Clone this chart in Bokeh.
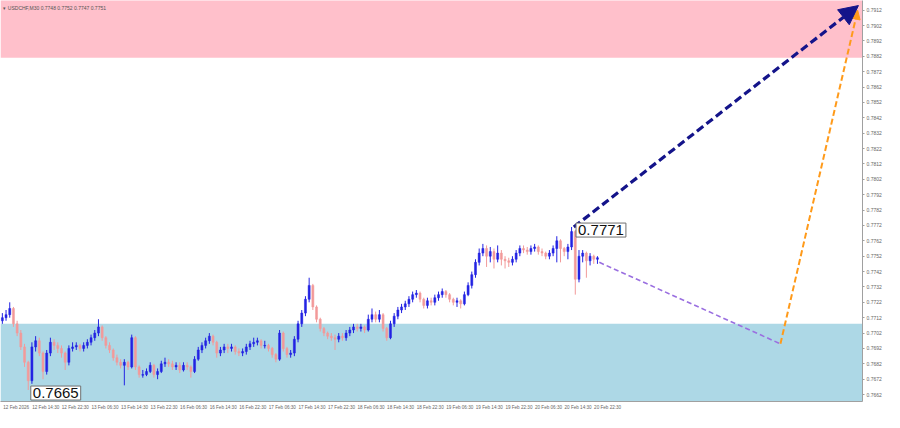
from bokeh.plotting import figure
from bokeh.models import Range1d, FixedTicker, Label, Arrow, NormalHead, BoxAnnotation, PrintfTickFormatter, ColumnDataSource
from bokeh.embed import file_html
from bokeh.resources import INLINE

# ---------------- data (hourly candles, USDCHF) ----------------
first_open = 0.7710
closes = [0.7712, 0.7714, 0.7718, 0.7708, 0.7702, 0.7693, 0.7683, 0.7671, 0.7693, 0.7697,
          0.7689, 0.7677, 0.7689, 0.7696, 0.7694, 0.7692, 0.7689, 0.7683, 0.7692, 0.7693,
          0.7694, 0.7692, 0.7694, 0.7696, 0.7699, 0.7702, 0.7706, 0.7699, 0.7694, 0.7691,
          0.7686, 0.7683, 0.7681, 0.7683, 0.7680, 0.7699, 0.7680, 0.7675, 0.7675, 0.7677,
          0.7681, 0.7675, 0.7677, 0.7682, 0.7683, 0.7682, 0.7680, 0.7681, 0.7678, 0.7681,
          0.7680, 0.7677, 0.7685, 0.7691, 0.7694, 0.7697, 0.7700, 0.7696, 0.7689, 0.7691,
          0.7693, 0.7692, 0.7693, 0.7690, 0.7689, 0.7690, 0.7693, 0.7695, 0.7696, 0.7697,
          0.7694, 0.7694, 0.7692, 0.7688, 0.7685, 0.7702, 0.7692, 0.7688, 0.7689, 0.7698,
          0.7708, 0.7715, 0.7724, 0.7733, 0.7719, 0.7711, 0.7705, 0.7702, 0.7700, 0.7699,
          0.7698, 0.7700, 0.7699, 0.7702, 0.7704, 0.7706, 0.7705, 0.7706, 0.7704, 0.7711,
          0.7714, 0.7711, 0.7714, 0.7705, 0.7699, 0.7708, 0.7713, 0.7717, 0.7719, 0.7721,
          0.7724, 0.7727, 0.7728, 0.7724, 0.7720, 0.7723, 0.7722, 0.7725, 0.7727, 0.7729,
          0.7727, 0.7724, 0.7722, 0.7723, 0.7721, 0.7727, 0.7733, 0.7740, 0.7748, 0.7754,
          0.7757, 0.7752, 0.7755, 0.7750, 0.7754, 0.7750, 0.7749, 0.7748, 0.7750, 0.7754,
          0.7757, 0.7756, 0.7755, 0.7757, 0.7758, 0.7755, 0.7754, 0.7752, 0.7754, 0.7757,
          0.7762, 0.7757, 0.7755, 0.7758, 0.7768, 0.7737, 0.7752, 0.7754, 0.7749, 0.7752,
          0.7750, 0.7751]
highs = [0.7715, 0.7717, 0.7722, 0.7719, 0.7710, 0.7704, 0.7695, 0.7684, 0.7696, 0.7700,
         0.7699, 0.7690, 0.7691, 0.7699, 0.7698, 0.7696, 0.7694, 0.7690, 0.7694, 0.7696,
         0.7696, 0.7695, 0.7696, 0.7698, 0.7701, 0.7704, 0.7711, 0.7707, 0.7700, 0.7696,
         0.7692, 0.7688, 0.7685, 0.7685, 0.7684, 0.7701, 0.7700, 0.7681, 0.7678, 0.7679,
         0.7683, 0.7682, 0.7679, 0.7684, 0.7686, 0.7685, 0.7684, 0.7683, 0.7683, 0.7683,
         0.7683, 0.7681, 0.7687, 0.7693, 0.7696, 0.7699, 0.7702, 0.7701, 0.7697, 0.7693,
         0.7695, 0.7695, 0.7695, 0.7694, 0.7692, 0.7692, 0.7695, 0.7697, 0.7699, 0.7699,
         0.7698, 0.7697, 0.7695, 0.7693, 0.7689, 0.7704, 0.7703, 0.7693, 0.7691, 0.7700,
         0.7710, 0.7717, 0.7726, 0.7738, 0.7734, 0.7720, 0.7712, 0.7706, 0.7703, 0.7702,
         0.7701, 0.7702, 0.7702, 0.7704, 0.7706, 0.7708, 0.7708, 0.7708, 0.7707, 0.7714,
         0.7718, 0.7716, 0.7717, 0.7715, 0.7706, 0.7710, 0.7715, 0.7719, 0.7721, 0.7723,
         0.7726, 0.7729, 0.7730, 0.7729, 0.7725, 0.7725, 0.7725, 0.7727, 0.7729, 0.7731,
         0.7730, 0.7728, 0.7725, 0.7725, 0.7724, 0.7729, 0.7735, 0.7742, 0.7750, 0.7757,
         0.7760, 0.7759, 0.7758, 0.7757, 0.7759, 0.7756, 0.7752, 0.7751, 0.7752, 0.7756,
         0.7759, 0.7759, 0.7758, 0.7759, 0.7760, 0.7759, 0.7757, 0.7755, 0.7756, 0.7759,
         0.7765, 0.7763, 0.7758, 0.7760, 0.7771, 0.7769, 0.7756, 0.7756, 0.7755, 0.7754,
         0.7753, 0.7752]
lows = [0.7708, 0.7710, 0.7712, 0.7706, 0.7700, 0.7691, 0.7680, 0.7665, 0.7669, 0.7690,
        0.7687, 0.7672, 0.7675, 0.7687, 0.7691, 0.7689, 0.7686, 0.7678, 0.7681, 0.7690,
        0.7691, 0.7690, 0.7690, 0.7692, 0.7694, 0.7697, 0.7700, 0.7697, 0.7692, 0.7689,
        0.7684, 0.7681, 0.7679, 0.7668, 0.7678, 0.7679, 0.7678, 0.7673, 0.7673, 0.7674,
        0.7676, 0.7673, 0.7672, 0.7676, 0.7680, 0.7680, 0.7678, 0.7678, 0.7676, 0.7677,
        0.7678, 0.7673, 0.7676, 0.7684, 0.7689, 0.7692, 0.7695, 0.7694, 0.7686, 0.7687,
        0.7689, 0.7689, 0.7690, 0.7688, 0.7687, 0.7687, 0.7688, 0.7691, 0.7693, 0.7694,
        0.7692, 0.7692, 0.7690, 0.7686, 0.7683, 0.7684, 0.7690, 0.7686, 0.7686, 0.7687,
        0.7696, 0.7706, 0.7713, 0.7722, 0.7717, 0.7709, 0.7703, 0.7700, 0.7698, 0.7697,
        0.7691, 0.7696, 0.7697, 0.7697, 0.7700, 0.7702, 0.7703, 0.7703, 0.7702, 0.7703,
        0.7709, 0.7709, 0.7709, 0.7703, 0.7697, 0.7698, 0.7706, 0.7711, 0.7715, 0.7717,
        0.7719, 0.7722, 0.7725, 0.7722, 0.7718, 0.7718, 0.7720, 0.7720, 0.7723, 0.7725,
        0.7725, 0.7722, 0.7720, 0.7719, 0.7718, 0.7720, 0.7726, 0.7731, 0.7738, 0.7746,
        0.7752, 0.7745, 0.7748, 0.7744, 0.7748, 0.7746, 0.7744, 0.7745, 0.7746, 0.7748,
        0.7752, 0.7754, 0.7753, 0.7753, 0.7755, 0.7753, 0.7752, 0.7750, 0.7750, 0.7752,
        0.7748, 0.7748, 0.7752, 0.7750, 0.7756, 0.7727, 0.7735, 0.7748, 0.7738, 0.7746,
        0.7747, 0.7747]

tick_bars = [0, 8, 16, 24, 32, 40, 48, 56, 64, 72, 80, 88, 96, 104, 112, 120, 128, 136, 144, 152, 160]
tick_labels = ["12 Feb 2026", "12 Feb 14:30", "12 Feb 22:30", "13 Feb 06:30", "13 Feb 14:30",
               "13 Feb 22:30", "16 Feb 06:30", "16 Feb 14:30", "16 Feb 22:30", "17 Feb 06:30",
               "17 Feb 14:30", "17 Feb 22:30", "18 Feb 06:30", "18 Feb 14:30", "18 Feb 22:30",
               "19 Feb 06:30", "19 Feb 14:30", "19 Feb 22:30", "20 Feb 06:30", "20 Feb 14:30",
               "20 Feb 22:30"]
price_ticks = [0.7662, 0.7672, 0.7682, 0.7692, 0.7702, 0.7712, 0.7722, 0.7732, 0.7742, 0.7752,
               0.7762, 0.7772, 0.7782, 0.7792, 0.7802, 0.7812, 0.7822, 0.7832, 0.7842, 0.7852,
               0.7862, 0.7872, 0.7882, 0.7892, 0.7902, 0.7912]

resistance_zone = [0.7881, 0.7930]
support_zone = [0.7640, 0.7708]

up_arrow_x = [154.6, 231.6]
up_arrow_y = [0.7771, 0.7915]
down_path_x = [161.5, 210.5]
down_path_y = [0.7748, 0.7695]
final_arrow_x = [210.5, 231.4]
final_arrow_y = [0.7695, 0.7912]

high_label = ("0.7771", 155.2, 0.7769)
low_label = ("0.7665", 7.7, 0.7663)
title_text = "USDCHF,M30  0.7748 0.7752 0.7747 0.7751"

# ---------------- figure ----------------
X0, X1 = -0.5, 232.7
Y0, Y1 = 0.76575, 0.79183

p = figure(width=884, height=412, output_backend="svg", toolbar_location=None,
           x_range=Range1d(X0, X1), y_range=Range1d(Y0, Y1), y_axis_location="right",
           min_border_left=0, min_border_top=0, min_border_right=4, min_border_bottom=0)
p.xgrid.visible = False
p.ygrid.visible = False
p.outline_line_color = None
p.background_fill_color = "white"

p.add_layout(BoxAnnotation(bottom=resistance_zone[0], top=resistance_zone[1],
                           fill_color="#ffc0cb", fill_alpha=1, line_color=None, level="underlay"))
p.add_layout(BoxAnnotation(bottom=support_zone[0], top=support_zone[1],
                           fill_color="#add8e6", fill_alpha=1, line_color=None, level="underlay"))

n = len(closes)
idx = list(range(n))
opens = [first_open] + closes[:-1]
bull_c, bear_c = "#2323e3", "#f29a9a"
colors = [bull_c if c >= o else bear_c for o, c in zip(opens, closes)]
tops = [max(o, c) for o, c in zip(opens, closes)]
bots = [min(o, c) for o, c in zip(opens, closes)]
bots = [b if t - b > 0.00004 else t - 0.00004 for t, b in zip(tops, bots)]
src = ColumnDataSource(dict(x=idx, h=highs, l=lows, t=tops, b=bots, c=colors))
p.segment("x", "h", "x", "l", color="c", line_width=1, source=src)
p.vbar(x="x", top="t", bottom="b", width=0.55, fill_color="c", line_color="c", line_width=0.5, source=src)

# forecast lines
p.line(down_path_x, down_path_y, line_color="#9a6fe0", line_width=1.6, line_dash="5 3")
p.add_layout(Arrow(end=NormalHead(size=9, fill_color="#ff9a1a", line_color="#ff9a1a"),
                   x_start=final_arrow_x[0], y_start=final_arrow_y[0],
                   x_end=final_arrow_x[1], y_end=final_arrow_y[1],
                   line_color="#ff9a1a", line_width=2, line_dash="6 3"))
p.add_layout(Arrow(end=NormalHead(size=19, fill_color="#14148a", line_color="#14148a"),
                   x_start=up_arrow_x[0], y_start=up_arrow_y[0],
                   x_end=up_arrow_x[1], y_end=up_arrow_y[1],
                   line_color="#14148a", line_width=3.2, line_dash="8 4"))

for txt, lx, ly in (high_label, low_label):
    p.add_layout(Label(x=lx, y=ly, text=txt, text_font="Liberation Sans", text_font_size="15px",
                       text_color="#111111", text_baseline="middle", text_align="left",
                       background_fill_color="white", border_line_color="#707070",
                       border_line_width=1, padding=2))

p.add_layout(Label(x=X0 + 0.8, y=Y1, text="\u25be " + title_text, text_font="Liberation Sans",
                   text_font_size="5px", text_color="#555555", text_baseline="top", y_offset=-4))

# axes
ya = p.yaxis[0]
ya.ticker = FixedTicker(ticks=price_ticks)
ya.formatter = PrintfTickFormatter(format="%.4f")
ya.major_label_text_font = "Liberation Sans"
ya.major_label_text_font_size = "5px"
ya.major_label_text_color = "#666666"
ya.axis_line_color = "#a0a0a0"
ya.major_tick_line_color = "#a0a0a0"
ya.major_tick_out = 2
ya.major_tick_in = 0
ya.minor_tick_line_color = None
ya.minor_tick_out = 0
ya.minor_tick_in = 0
ya.major_label_standoff = 2

xa = p.xaxis[0]
shift = 3.75
xa.ticker = FixedTicker(ticks=[t + shift for t in tick_bars])
xa.major_label_overrides = {t + shift: lab for t, lab in zip(tick_bars, tick_labels)}
xa.major_label_text_font = "Liberation Sans"
xa.major_label_text_font_size = "4.6px"
xa.major_label_text_color = "#666666"
xa.axis_line_color = "#a0a0a0"
xa.major_tick_line_color = None
xa.major_tick_out = 0
xa.major_tick_in = 0
xa.minor_tick_line_color = None
xa.minor_tick_out = 0
xa.minor_tick_in = 0
xa.major_label_standoff = 3

open("out.html", "w").write(file_html(p, INLINE))
